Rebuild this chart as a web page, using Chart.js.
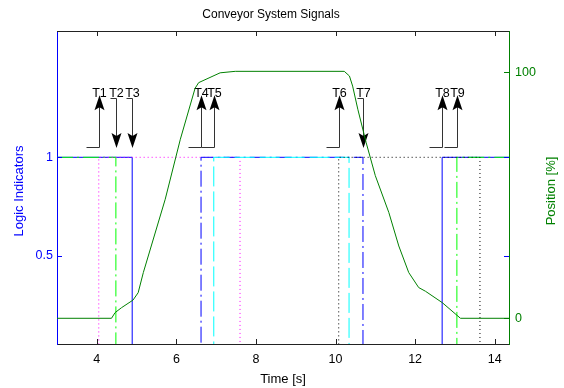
<!DOCTYPE html>
<html><head><meta charset="utf-8">
<script src="https://cdn.jsdelivr.net/npm/chart.js@4/dist/chart.umd.min.js"></script>
<style>html,body{margin:0;padding:0;background:#fff}#wrap{width:564px;height:388px}</style>
</head><body><div id="wrap"><canvas id="c" width="564" height="388"></canvas></div>
<script>
// ---- data ----
const xTicks = [4, 6, 8, 10, 12, 14];
const leftTicks = [0.5, 1];
const rightTicks = [0, 100];

const posTime  = [3, 4.37, 4.46, 4.62, 4.91, 5.04, 5.17, 5.72, 6.10, 6.47, 6.56, 7.10, 7.48, 10.22, 10.35, 10.43, 10.56, 10.77, 11.00, 11.34, 11.59, 11.84, 12.09, 12.26, 12.68, 13.14, 14.36];
const posValue = [0, 0,    2.3,  4.3,  7.4,  10.4, 18.6, 48.4, 72.8, 93.5, 95.8, 99.8, 100.4, 100.4, 98.5, 94.4, 85.0, 71.4, 58.0, 43.0, 29.4, 18.6, 12.5, 11.0, 6.4, 0, 0];

const eventNames = ['T1', 'T2', 'T3', 'T4', 'T5', 'T6', 'T7', 'T8', 'T9'];
const eventTimes = [4.05, 4.48, 4.89, 6.62, 6.94, 10.08, 10.69, 12.68, 13.05];
const eventDir   = [1, -1, -1, 1, 1, 1, -1, 1, 1];

// logic signals: start level + switching times
const blueSolidStart = 1,  blueSolidEdges = [4.89, 12.68];
const greenDashStart = 1,  greenDashEdges = [4.48, 13.05];
const magentaStart   = 0,  magentaEdges   = [4.05, 7.60];
const blueDashStart  = 0,  blueDashEdges  = [6.62, 10.69];
const cyanStart      = 0,  cyanEdges      = [6.94, 10.34];
const blackStart     = 0,  blackEdges     = [10.08, 13.63];

const X_MIN = 3, X_MAX = 14.36;
const YL_MIN = 0.054, YL_MAX = 1.64;
const YR_MIN = -10.45, YR_MAX = 116.8;

// arrow geometry in left-axis units
const upBase = 1.052, upTip = 1.315, downTop = 1.30, downTip = 1.047, labelLevel = 1.323;

function steps(start, edges) {
  const pts = [{x: X_MIN, y: start}];
  let lvl = start;
  edges.forEach(t => { lvl = 1 - lvl; pts.push({x: t, y: lvl}); });
  pts.push({x: X_MAX, y: lvl});
  return pts;
}

const FONT = '"Liberation Sans", Arial, Helvetica, sans-serif';

const deco = {
  id: 'deco',
  beforeDatasetsDraw(chart) {
    const ctx = chart.ctx, xs = chart.scales.x, yl = chart.scales.y;
    ctx.save();
    ctx.strokeStyle = '#333'; ctx.fillStyle = '#000'; ctx.lineWidth = 1;
    ctx.font = '12.5px ' + FONT;
    ctx.textAlign = 'center'; ctx.textBaseline = 'middle';
    eventTimes.forEach((t, i) => {
      const px = Math.round(xs.getPixelForValue(t)) + 0.5;
      const up = eventDir[i] > 0;
      const headLen = 15, half = 5;
      ctx.fillText(eventNames[i], px, yl.getPixelForValue(labelLevel));
      ctx.beginPath();
      if (up) {
        const yb = Math.round(yl.getPixelForValue(upBase)) + 0.5;
        const yt = yl.getPixelForValue(upTip);
        ctx.moveTo(px - 13, yb); ctx.lineTo(px, yb); ctx.lineTo(px, yt + headLen * 0.7);
        ctx.stroke();
        ctx.beginPath();
        ctx.moveTo(px, yt); ctx.lineTo(px - half, yt + headLen); ctx.lineTo(px, yt + headLen * 0.8); ctx.lineTo(px + half, yt + headLen); ctx.closePath(); ctx.fill();
      } else {
        const yt = Math.round(yl.getPixelForValue(downTop)) + 0.5;
        const yb = yl.getPixelForValue(downTip);
        ctx.moveTo(px - 6, yt); ctx.lineTo(px, yt); ctx.lineTo(px, yb - headLen * 0.7);
        ctx.stroke();
        ctx.beginPath();
        ctx.moveTo(px, yb); ctx.lineTo(px - half, yb - headLen); ctx.lineTo(px, yb - headLen * 0.8); ctx.lineTo(px + half, yb - headLen); ctx.closePath(); ctx.fill();
      }
    });
    ctx.restore();
  },
  afterDraw(chart) {
    const ctx = chart.ctx, ca = chart.chartArea, xs = chart.scales.x, yl = chart.scales.y, yr = chart.scales.y2;
    ctx.save();
    ctx.lineWidth = 1;
    // top border
    ctx.strokeStyle = '#222';
    ctx.beginPath(); ctx.moveTo(ca.left, Math.round(ca.top) + 0.5); ctx.lineTo(ca.right, Math.round(ca.top) + 0.5); ctx.stroke();
    // x ticks (inward, bottom and top)
    ctx.beginPath();
    xTicks.forEach(v => {
      const p = Math.round(xs.getPixelForValue(v)) + 0.5;
      ctx.moveTo(p, ca.bottom); ctx.lineTo(p, ca.bottom - 5);
      ctx.moveTo(p, ca.top); ctx.lineTo(p, ca.top + 5);
    });
    ctx.stroke();
    // left ticks (both sides)
    ctx.strokeStyle = '#0000ff';
    ctx.beginPath();
    leftTicks.forEach(v => {
      const p = Math.round(yl.getPixelForValue(v)) + 0.5;
      ctx.moveTo(ca.left, p); ctx.lineTo(ca.left + 5, p);
      ctx.moveTo(ca.right, p); ctx.lineTo(ca.right - 5, p);
    });
    ctx.stroke();
    // right ticks
    ctx.strokeStyle = '#008000';
    ctx.beginPath();
    rightTicks.forEach(v => {
      const p = Math.round(yr.getPixelForValue(v)) + 0.5;
      ctx.moveTo(ca.right, p); ctx.lineTo(ca.right - 5, p);
    });
    ctx.stroke();
    // titles
    ctx.textAlign = 'center'; ctx.textBaseline = 'middle';
    ctx.fillStyle = '#000';
    ctx.font = '12px ' + FONT;
    ctx.fillText('Conveyor System Signals', 271, 14.5);
    ctx.font = '13px ' + FONT;
    ctx.fillText('Time [s]', (ca.left + ca.right) / 2, 379);
    ctx.save(); ctx.translate(19.5, 191); ctx.rotate(-Math.PI / 2);
    ctx.fillStyle = '#0000ff'; ctx.fillText('Logic Indicators', 0, 0); ctx.restore();
    ctx.save(); ctx.translate(551.5, 191); ctx.rotate(-Math.PI / 2);
    ctx.fillStyle = '#008000'; ctx.fillText('Position [%]', 0, 0); ctx.restore();
    ctx.restore();
  }
};

const sig = (data, color, dash, order) => ({
  data, yAxisID: 'y', borderColor: color, borderWidth: 1, borderDash: dash,
  pointRadius: 0, stepped: true, fill: false, order
});

new Chart(document.getElementById('c'), {
  type: 'line',
  data: {
    datasets: [
      { data: posTime.map((t, i) => ({x: t, y: posValue[i]})), yAxisID: 'y2', borderColor: '#008000', borderWidth: 1, pointRadius: 0, tension: 0, fill: false, order: 0 },
      sig(steps(blackStart, blackEdges), '#000000', [1, 3], 1),
      sig(steps(cyanStart, cyanEdges), '#00ffff', [20, 5], 2),
      sig(steps(blueDashStart, blueDashEdges), '#0000ff', [16, 4, 2, 4], 3),
      sig(steps(magentaStart, magentaEdges), '#ff00ff', [1, 3], 4),
      sig(steps(greenDashStart, greenDashEdges), '#00ff00', [16, 4, 2, 4], 5),
      sig(steps(blueSolidStart, blueSolidEdges), '#0000ff', [], 6)
    ]
  },
  options: {
    responsive: false, animation: false, devicePixelRatio: 1,
    layout: { padding: { top: 31, left: 0, right: 0, bottom: 0 } },
    plugins: { legend: { display: false }, tooltip: { enabled: false }, title: { display: false } },
    scales: {
      x: {
        type: 'linear', min: X_MIN, max: X_MAX,
        afterBuildTicks: s => { s.ticks = xTicks.map(v => ({value: v})); },
        afterFit: s => { s.height = 44; },
        grid: { display: false, drawTicks: false },
        border: { display: true, color: '#222', width: 1 },
        ticks: { color: '#000', padding: 8, maxRotation: 0, autoSkip: false, font: { family: FONT, size: 12.5 }, callback: v => String(v) }
      },
      y: {
        type: 'linear', position: 'left', min: YL_MIN, max: YL_MAX,
        afterBuildTicks: s => { s.ticks = leftTicks.map(v => ({value: v})); },
        afterFit: s => { s.width = 57; },
        grid: { display: false, drawTicks: false },
        border: { display: true, color: '#0000ff', width: 1 },
        ticks: { color: '#0000ff', padding: 4, autoSkip: false, font: { family: FONT, size: 12.5 }, callback: v => String(v) }
      },
      y2: {
        type: 'linear', position: 'right', min: YR_MIN, max: YR_MAX,
        afterBuildTicks: s => { s.ticks = rightTicks.map(v => ({value: v})); },
        afterFit: s => { s.width = 55; },
        grid: { display: false, drawTicks: false },
        border: { display: true, color: '#008000', width: 1 },
        ticks: { color: '#008000', padding: 6, autoSkip: false, font: { family: FONT, size: 12.5 }, callback: v => String(v) }
      }
    }
  },
  plugins: [deco]
});
</script>
</body></html>
